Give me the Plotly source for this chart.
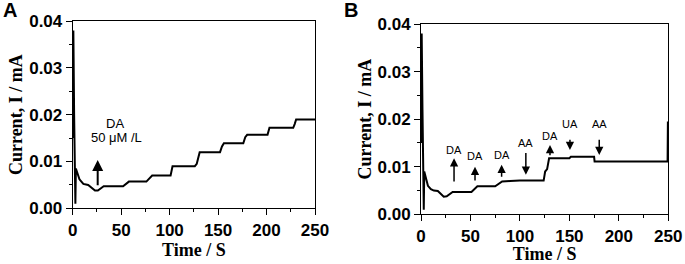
import plotly.graph_objects as go
from plotly.subplots import make_subplots

# Panel A data (time / s, current / mA)
time_a = [0, 0.7, 1.5, 2.8, 3.3, 5, 7, 9, 11, 16, 19, 23, 26, 29, 32, 52, 55, 58, 76, 79, 82,
          101, 103, 126, 128, 131, 152, 154, 156, 176, 178, 180, 201, 203, 227.5, 229, 230.5, 250]
curr_a = [0.015, 0.038, 0.02, 0.001, 0.0085, 0.0072, 0.0062, 0.0057, 0.0052, 0.005, 0.0044, 0.0038,
          0.0038, 0.0043, 0.0047, 0.0047, 0.0052, 0.0057, 0.0057, 0.0064, 0.007, 0.007, 0.009, 0.009,
          0.0095, 0.012, 0.012, 0.0132, 0.0139, 0.0139, 0.0152, 0.0157, 0.0157, 0.0172, 0.0172, 0.018,
          0.019, 0.019]

# Panel B data
time_b = [0, 0.7, 1.5, 2.8, 3.3, 5, 7, 10, 13, 17, 20, 23, 26, 29, 32, 51, 54, 57, 75, 78, 82, 90,
          100, 124, 125.5, 127.5, 129.5, 150, 151.5, 175, 175.5, 249.3, 249.6]
curr_b = [0.015, 0.038, 0.022, 0.001, 0.009, 0.0075, 0.006, 0.0053, 0.005, 0.0049, 0.0044, 0.0037,
          0.0038, 0.0043, 0.0047, 0.0047, 0.0052, 0.0059, 0.0059, 0.0064, 0.0069, 0.007, 0.0071,
          0.0071, 0.009, 0.0095, 0.0118, 0.0118, 0.0121, 0.0121, 0.0111, 0.0111, 0.0195]

# Annotations: panel A
arrow_a_x = [25.8]
arrow_a_tail = [0.0046]
arrow_a_tip = [0.0103]
label_a_text = ["DA", "50 μM /L"]
label_a_x = [44, 45]
label_a_y = [0.0182, 0.0151]

# Annotations: panel B (label, x, tail y, tip y, label y)
arrow_b_label = ["DA", "DA", "DA", "AA", "DA", "UA", "AA"]
arrow_b_x = [33.4, 54.6, 81.5, 106, 130.4, 150.6, 180.2]
arrow_b_tail = [0.0066, 0.0068, 0.0076, 0.0132, 0.0121, 0.0160, 0.0160]
arrow_b_tip = [0.0118, 0.0100, 0.0104, 0.0083, 0.0146, 0.0135, 0.0125]
arrow_b_label_y = [0.0136, 0.0122, 0.0125, 0.0150, 0.0164, 0.0189, 0.0189]

fig = make_subplots(rows=1, cols=2)
fig.add_trace(go.Scatter(x=time_a, y=curr_a, mode="lines", line=dict(color="black", width=2),
                         showlegend=False), row=1, col=1)
fig.add_trace(go.Scatter(x=time_b, y=curr_b, mode="lines", line=dict(color="black", width=2),
                         showlegend=False), row=1, col=2)

tickfont = dict(family="Liberation Sans, Arial", size=17, color="black", weight="bold")
titlefont = dict(family="Liberation Serif, Times New Roman", size=18, color="black", weight="bold")

common_x = dict(range=[0, 250], dtick=50, tick0=0, showline=True, linecolor="black", linewidth=1,
                mirror=True, ticks="outside", ticklen=6, tickwidth=1, tickcolor="black",
                minor=dict(dtick=25, ticks="outside", ticklen=3, tickcolor="black"),
                showgrid=False, zeroline=False, tickfont=tickfont, automargin=False,
                title=dict(text="Time / S", font=titlefont, standoff=3))
common_y = dict(range=[0, 0.04], dtick=0.01, tick0=0, tickformat=".2f", showline=True,
                linecolor="black", linewidth=1, mirror=True, ticks="outside", ticklen=6,
                tickwidth=1, tickcolor="black",
                minor=dict(dtick=0.005, ticks="outside", ticklen=3, tickcolor="black"),
                showgrid=False, zeroline=False, tickfont=tickfont, automargin=False,
                title=dict(text="Current, I / mA", font=titlefont, standoff=1))

fig.update_xaxes(**common_x)
fig.update_yaxes(**common_y)
fig.update_layout(
    xaxis=dict(domain=[0.1061, 0.4599]),
    yaxis=dict(domain=[0.211, 0.920]),
    xaxis2=dict(domain=[0.6146, 0.9756]),
    yaxis2=dict(domain=[0.188, 0.909]),
)

annots = []
for x, t0, t1 in zip(arrow_a_x, arrow_a_tail, arrow_a_tip):
    annots.append(dict(x=x, y=t1, ax=x, ay=t0, xref="x", yref="y", axref="x", ayref="y",
                       text="", showarrow=True, arrowhead=2, arrowsize=1.1, arrowwidth=2,
                       arrowcolor="black"))
for txt, x, y in zip(label_a_text, label_a_x, label_a_y):
    annots.append(dict(x=x, y=y, xref="x", yref="y", text=txt, showarrow=False,
                       font=dict(family="Liberation Sans, Arial", size=13, color="black")))
for txt, x, t0, t1, ly in zip(arrow_b_label, arrow_b_x, arrow_b_tail, arrow_b_tip, arrow_b_label_y):
    annots.append(dict(x=x, y=t1, ax=x, ay=t0, xref="x2", yref="y2", axref="x2", ayref="y2",
                       text="", showarrow=True, arrowhead=2, arrowsize=1.1, arrowwidth=1.5,
                       arrowcolor="black"))
    annots.append(dict(x=x, y=ly, xref="x2", yref="y2", text=txt, showarrow=False,
                       font=dict(family="Liberation Sans, Arial", size=11, color="black")))
# panel letters
annots.append(dict(x=0.002, y=1.01, xref="paper", yref="paper", text="A", showarrow=False,
                   xanchor="left", yanchor="top",
                   font=dict(family="Liberation Sans, Arial", size=20, color="black", weight="bold")))
annots.append(dict(x=0.499, y=1.01, xref="paper", yref="paper", text="B", showarrow=False,
                   xanchor="left", yanchor="top",
                   font=dict(family="Liberation Sans, Arial", size=20, color="black", weight="bold")))

fig.update_layout(width=685, height=264, margin=dict(l=0, r=0, t=0, b=0),
                  paper_bgcolor="white", plot_bgcolor="white", annotations=annots)

fig.write_html("out.html", config={"displayModeBar": False},
               post_script="document.body.style.margin='0';")
